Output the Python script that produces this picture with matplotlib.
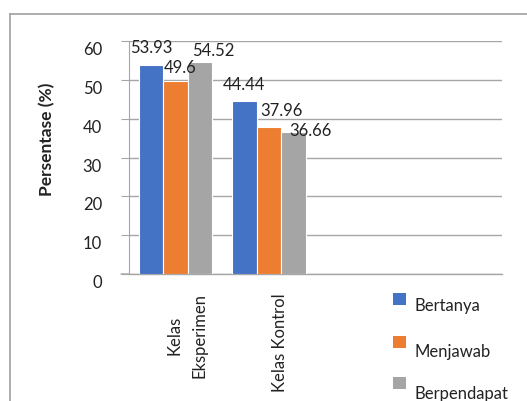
import matplotlib
matplotlib.use("Agg")
import matplotlib.pyplot as plt
from matplotlib.patches import Rectangle
from matplotlib.lines import Line2D
import numpy as np

categories = ["Kelas\nEksperimen", "Kelas Kontrol"]
series_names = ["Bertanya", "Menjawab", "Berpendapat"]
bertanya = [53.93, 44.44]
menjawab = [49.6, 37.96]
berpendapat = [54.52, 36.66]
yticks = [0, 10, 20, 30, 40, 50, 60]

colors = ["#4472C4", "#ED7D31", "#A5A5A5"]
# label offsets in pixels (dx, dy) per series per category
label_offsets = [[(0, 17), (0, 16)], [(5, 13), (13, 16)], [(13, 11), (17, 1)]]

W, H = 527, 401
DPI = 100
PX = 72.0 / DPI
FONT = "Lato"
FS = 12

fig = plt.figure(figsize=(W / DPI, H / DPI), dpi=DPI)
ax = fig.add_axes([129 / W, 1 - 274 / H, (502 - 129) / W, (274 - 41) / H])

x = np.arange(len(categories))
bw = 0.263
allvals = [bertanya, menjawab, berpendapat]
for i, (vals, c) in enumerate(zip(allvals, colors)):
    pos = x + (i - 1) * bw
    ax.bar(pos, vals, width=bw, color=c, edgecolor="white", linewidth=0.8, zorder=3)
    for j, (p, v) in enumerate(zip(pos, vals)):
        dx, dy = label_offsets[i][j]
        ax.annotate(f"{v:g}", xy=(p, v), xytext=(dx * PX, dy * PX), textcoords="offset points",
                    ha="center", va="center", fontsize=FS, family=FONT, color="#222222", zorder=5)

ax.set_xlim(-0.5, 3.5)
ax.set_ylim(0, 60)
ax.set_yticks(yticks)
ax.set_yticklabels([])
ax.set_xticks([])
for t in yticks:
    ax.annotate(str(t), xy=(0, t), xycoords=("axes fraction", "data"),
                xytext=(-27 * PX, -9 * PX), textcoords="offset points",
                ha="right", va="center", fontsize=FS, family=FONT, color="#222222")
for j, cat in enumerate(categories):
    ax.annotate(cat, xy=(j, 0), xycoords=("data", "axes fraction"),
                xytext=(11 * PX, -19 * PX), textcoords="offset points",
                ha="center", va="top", rotation=90, multialignment="center",
                fontsize=FS, family=FONT, color="#222222", linespacing=1.7)

ax.tick_params(axis="y", length=8 * PX, width=0.8, color="#A6A6A6", direction="out")
ax.grid(axis="y", color="#A6A6A6", linewidth=1.0, zorder=0)
for s in ["top", "right"]:
    ax.spines[s].set_visible(False)
ax.spines["left"].set_color("#A6A6A6")
ax.spines["bottom"].set_color("#A6A6A6")
ax.spines["left"].set_linewidth(0.8)
ax.spines["bottom"].set_linewidth(1.0)
# extend x axis line left to tick length
ax.annotate("", xy=(0, 0), xycoords="axes fraction", xytext=(-8 * PX, 0), textcoords="offset points",
            arrowprops=dict(arrowstyle="-", color="#A6A6A6", lw=1.0, shrinkA=0, shrinkB=0))

fig.text(47 / W, 1 - 139 / H, "Persentase (%)", rotation=90, ha="center", va="center",
         fontsize=12.5, family=FONT, fontweight="bold", color="#222222")

# legend
leg_marker_y = [293, 336, 377]
leg_text_y = [306, 352, 394]
for name, c, my, ty in zip(series_names, colors, leg_marker_y, leg_text_y):
    fig.add_artist(Rectangle((393 / W, 1 - (my + 12) / H), 13 / W, 12 / H, transform=fig.transFigure,
                             facecolor=c, edgecolor="none"))
    fig.text(415 / W, 1 - ty / H, name, ha="left", va="center", fontsize=FS, family=FONT, color="#222222")

# outer frame
fig.add_artist(Line2D([10 / W, 1], [1 - 14 / H, 1 - 14 / H], transform=fig.transFigure, color="#A0A0A0", lw=1.2))
fig.add_artist(Line2D([10 / W, 10 / W], [0, 1 - 14 / H], transform=fig.transFigure, color="#A0A0A0", lw=1.2))

fig.savefig("out.png", dpi=DPI)
